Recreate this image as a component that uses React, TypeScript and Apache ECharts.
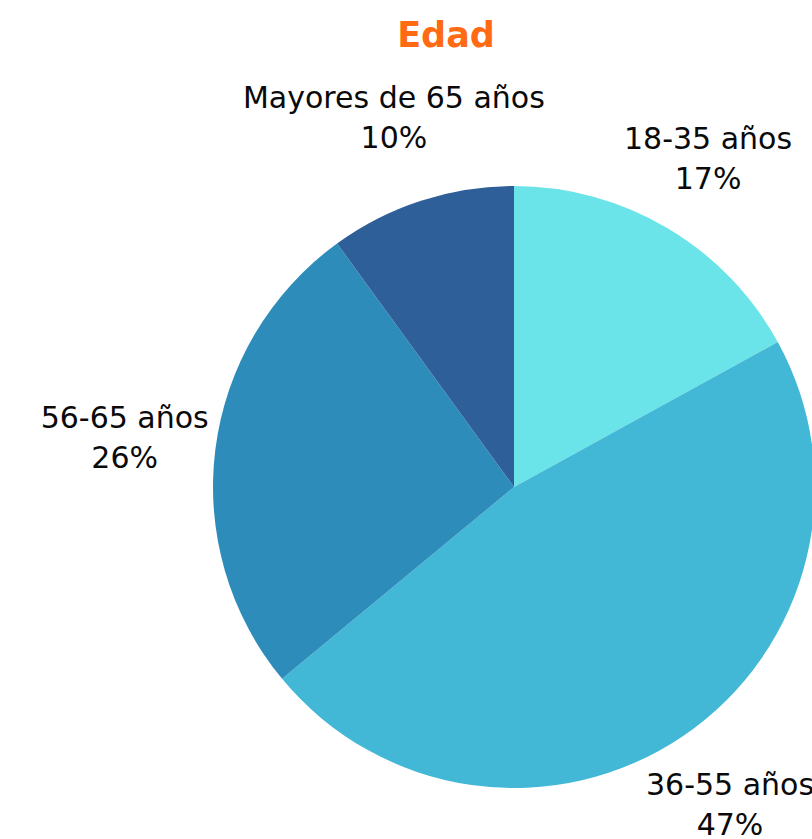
import React, { useEffect, useRef } from "react";
import * as echarts from "echarts";

const categories = ["18-35 años", "36-55 años", "56-65 años", "Mayores de 65 años"];
const values = [17, 47, 26, 10];
const colors = ["#6AE4E8", "#43B8D6", "#2E8CBA", "#2F5F98"];
const title = "Edad";

const CX = 514;
const CY = 487;
const R = 301;
const GAP = 3;

export default function App() {
  const ref = useRef<HTMLDivElement>(null);
  useEffect(() => {
    if (!ref.current) return;
    const chart = echarts.init(ref.current, undefined, { renderer: "svg" });
    const total = values.reduce((a, b) => a + b, 0);
    const mids: number[] = [];
    let acc = 0;
    values.forEach((v) => {
      mids.push(((acc + v / 2) / total) * Math.PI * 2);
      acc += v;
    });
    chart.setOption({
      animation: false,
      title: {
        text: title,
        left: 441,
        top: 12,
        textAlign: "center",
        textStyle: {
          color: "#FF6A13",
          fontFamily: "DejaVu Sans",
          fontWeight: "bold",
          fontSize: 35,
        },
      },
      series: [
        {
          type: "pie",
          center: [CX, CY],
          radius: R,
          startAngle: 90,
          clockwise: true,
          data: categories.map((c, i) => ({
            name: c,
            value: values[i],
            itemStyle: { color: colors[i] },
          })),
          label: {
            show: true,
            position: "outside",
            formatter: "{b}\n{d}%",
            color: "#0a0a0a",
            fontFamily: "DejaVu Sans",
            fontSize: 30,
            lineHeight: 40,
            align: "center",
            overflow: "none",
          },
          labelLine: { show: false },
          labelLayout: (p: any) => {
            const a = mids[p.dataIndex];
            const dx = Math.sin(a);
            const dy = -Math.cos(a);
            const w = p.labelRect.width;
            const h = p.labelRect.height;
            const ext = (w / 2) * Math.abs(dx) + (h / 2) * Math.abs(dy);
            const d = R + GAP + ext;
            return {
              x: CX + dx * d,
              y: CY + dy * d,
              align: "center",
              verticalAlign: "middle",
            };
          },
        },
      ],
    });
    return () => chart.dispose();
  }, []);
  return (
    <div
      ref={ref}
      style={{ position: "fixed", left: 0, top: 0, width: 812, height: 839, background: "#fff" }}
    />
  );
}
